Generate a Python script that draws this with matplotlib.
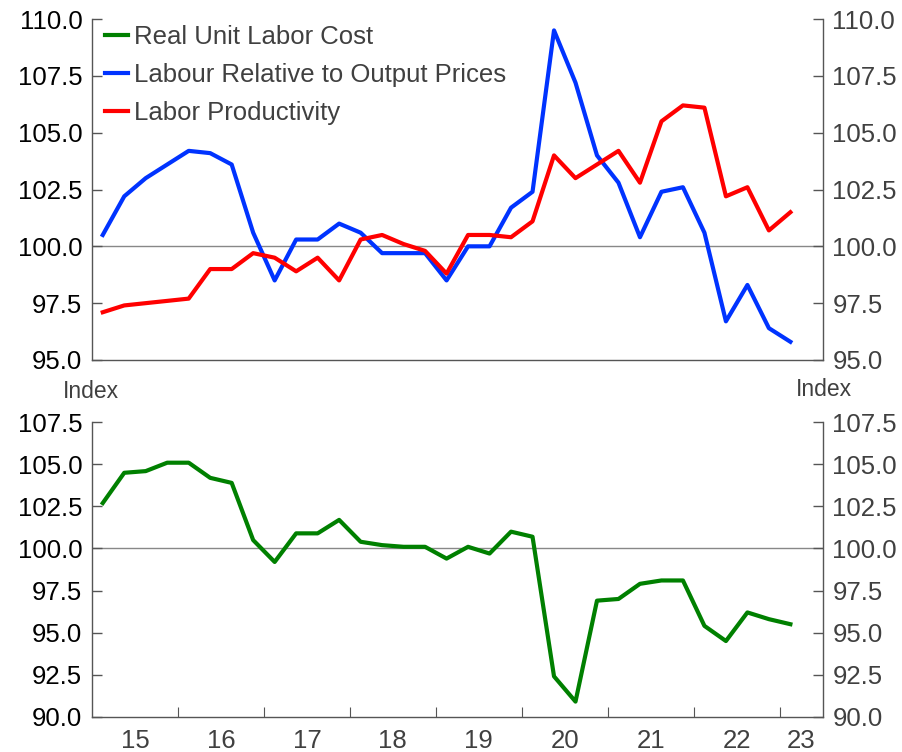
import matplotlib
matplotlib.use('Agg')
import matplotlib.pyplot as plt
import numpy as np

plt.rcParams['font.family'] = ['Liberation Sans', 'DejaVu Sans']

# quarterly, 2015Q1 .. 2023Q1
quarters = [f'{y}Q{q}' for y in range(2015, 2024) for q in range(1, 5)][:33]

real_ulc = [102.7, 104.5, 104.6, 105.1, 105.1, 104.2, 103.9, 100.5,
            99.2, 100.9, 100.9, 101.7, 100.4, 100.2, 100.1, 100.1,
            99.4, 100.1, 99.7, 101.0, 100.7, 92.4, 90.9, 96.9,
            97.0, 97.9, 98.1, 98.1, 95.4, 94.5, 96.2, 95.8, 95.5]

labour_rel = [100.5, 102.2, 103.0, 103.6, 104.2, 104.1, 103.6, 100.6,
              98.5, 100.3, 100.3, 101.0, 100.6, 99.7, 99.7, 99.7,
              98.5, 100.0, 100.0, 101.7, 102.4, 109.5, 107.2, 104.0,
              102.8, 100.4, 102.4, 102.6, 100.6, 96.7, 98.3, 96.4, 95.8]

labor_prod = [97.1, 97.4, 97.5, 97.6, 97.7, 99.0, 99.0, 99.7,
              99.5, 98.9, 99.5, 98.5, 100.3, 100.5, 100.1, 99.8,
              98.8, 100.5, 100.5, 100.4, 101.1, 104.0, 103.0, 103.6,
              104.2, 102.8, 105.5, 106.2, 106.1, 102.2, 102.6, 100.7, 101.5]

years = list(range(2015, 2024))
year_labels = [str(y)[2:] for y in years]

x = np.array([int(s[:4]) + (int(s[-1]) - 0.5) / 4 for s in quarters])

GREEN = '#008000'
BLUE = '#0033ff'
RED = '#ff0000'
SPINE = '#555555'
LABEL2 = '#404040'
FS = 18.5

fig = plt.figure(figsize=(9.02, 7.52), dpi=100)
ax1 = fig.add_axes([0.102, 0.5213, 0.810, 0.4534])
ax2 = fig.add_axes([0.102, 0.0469, 0.810, 0.3915])

l_blue, = ax1.plot(x, labour_rel, color=BLUE, lw=3, label='Labour Relative to Output Prices')
l_red, = ax1.plot(x, labor_prod, color=RED, lw=3, label='Labor Productivity')
l_green, = ax2.plot(x, real_ulc, color=GREEN, lw=3, label='Real Unit Labor Cost')

for ax, lo, hi in [(ax1, 95, 110), (ax2, 90, 107.5)]:
    ax.set_xlim(2015, 2023.5)
    ax.set_ylim(lo, hi)
    ax.axhline(100, color='#888888', lw=1, zorder=0)
    yt = np.arange(lo, hi + 0.01, 2.5)
    ax.set_yticks(yt)
    ax.set_yticklabels([f'{v:.1f}' for v in yt])
    ax.tick_params(axis='y', direction='in', length=7, width=1, color=SPINE,
                   labelsize=FS, left=True, right=True,
                   labelleft=True, labelright=True, pad=7)
    for t in ax.yaxis.get_major_ticks():
        t.label1.set_color('black')
        t.label2.set_color(LABEL2)
    for s in ax.spines.values():
        s.set_color(SPINE)
        s.set_linewidth(1)
    ax.spines['top'].set_visible(False)

ax1.set_xticks([])

ax2.set_xticks(years[1:])
ax2.set_xticklabels([])
ax2.set_xticks([y + 0.5 for y in years[:-1]] + [2023.25], minor=True)
ax2.set_xticklabels(year_labels, minor=True)
ax2.tick_params(axis='x', which='major', direction='in', length=7, color=SPINE)
ax2.tick_params(axis='x', which='minor', length=0, labelsize=FS,
                labelcolor=LABEL2, pad=9)

fig.text(63 / 902, 1 - 392 / 752, 'Index', fontsize=16.5, color=LABEL2,
         ha='left', va='center')
fig.text(852 / 902, 1 - 390 / 752, 'Index', fontsize=16.5, color=LABEL2,
         ha='right', va='center')

leg = ax1.legend(handles=[l_green, l_blue, l_red], loc='upper left',
                 bbox_to_anchor=(0.0178, 0.982), frameon=False, fontsize=FS,
                 handlelength=0.9, handletextpad=0.22, labelspacing=0.54,
                 borderpad=0, borderaxespad=0)
for t in leg.get_texts():
    t.set_color(LABEL2)

fig.savefig('out.png', dpi=100)
